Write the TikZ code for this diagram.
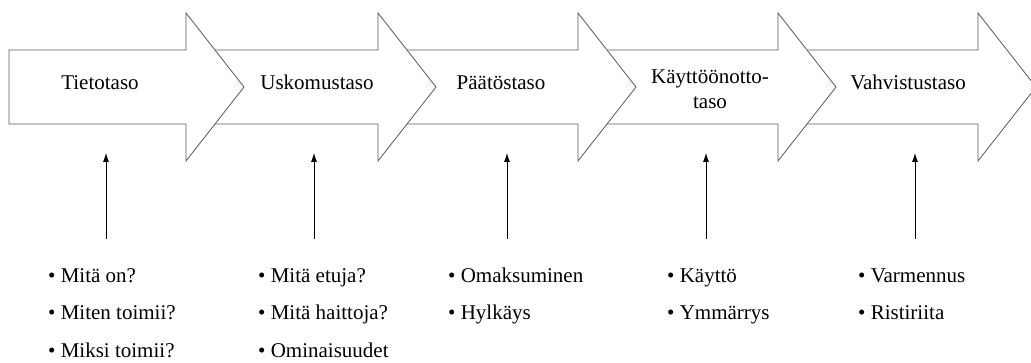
\documentclass[tikz,border=0pt]{standalone}
\usepackage{fontspec}
\setmainfont{Liberation Serif}
\usetikzlibrary{positioning,arrows.meta}
\tikzset{stage/.style={fill=white,draw=black!65,line width=0.8pt,line join=miter},
         level/.style={font=\fontsize{21}{25}\selectfont,align=center,inner sep=0pt},
         bullets/.style={font=\fontsize{21}{37.5}\selectfont,align=left,anchor=north west,inner sep=0pt}
}
\tikzstyle{arrow} = [line width=0.8pt,->,>={Latex[length=9pt,width=6pt]}]

\begin{document}
\begin{tikzpicture}[x=1pt,y=-1pt]
\useasboundingbox (0,0) rectangle (1031,363);

% the five stages, drawn from the last one so each lies under the one before
\foreach \b/\t in {978/1036,778/836,578/636,378/436,186/244}
  \draw[stage] (\b-177,50) -- (\b,50) -- (\b,13) -- (\t,87) -- (\b,161) -- (\b,124) -- (\b-177,124) -- cycle;

\node[level,anchor=base] (tieto) at (100,90) {Tietotaso};
\node[level,anchor=base] (usko) at (317,90) {Uskomustaso};
\node[level,anchor=base] (paatos) at (501,90) {Päätöstaso};
\node[level] (kaytto) at (710,89) {Käyttöönotto-\\taso};
\node[level,anchor=base] (vahvistus) at (908,90) {Vahvistustaso};

\node[bullets] (tietolist) at (48,267) {\rule{0pt}{15pt}\textbullet{} Mitä on?\\\textbullet{} Miten toimii?\\\textbullet{} Miksi toimii?};
\node[bullets] (uskolist) at (258,267) {\rule{0pt}{15pt}\textbullet{} Mitä etuja?\\\textbullet{} Mitä haittoja?\\\textbullet{} Ominaisuudet};
\node[bullets] (paatoslist) at (448,267) {\rule{0pt}{15pt}\textbullet{} Omaksuminen\\\textbullet{} Hylkäys};
\node[bullets] (kayttolist) at (667,267) {\rule{0pt}{15pt}\textbullet{} Käyttö\\\textbullet{} Ymmärrys};
\node[bullets] (vahvistuslist) at (858,267) {\rule{0pt}{15pt}\textbullet{} Varmennus\\\textbullet{} Ristiriita};

\foreach \x [count=\i] in {106,314,507,706,915} {
  \coordinate (from\i) at (\x,239);
  \coordinate (to\i) at (\x,153);
  \draw[arrow] (from\i) -- (to\i);
}

\end{tikzpicture}
\end{document}
